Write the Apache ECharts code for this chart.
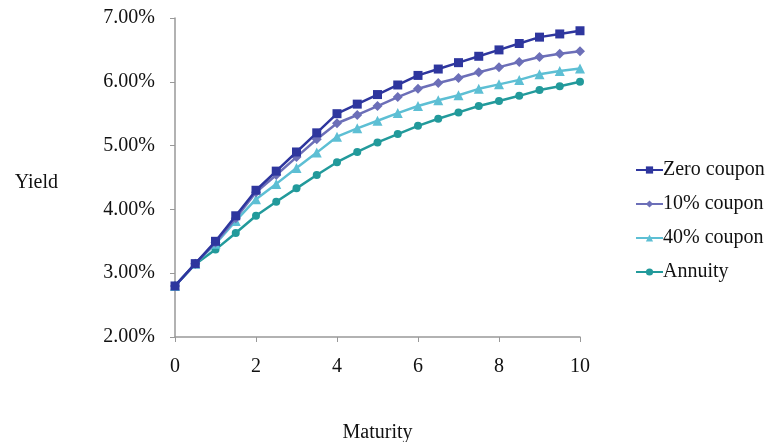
<!DOCTYPE html>
<html>
<head>
<meta charset="utf-8">
<script src="https://cdn.jsdelivr.net/npm/echarts@6/dist/echarts.min.js"></script>
<style>html,body{margin:0;padding:0;background:#fff}#c{width:774px;height:442px}</style>
</head>
<body>
<div id="c"></div>
<script>
var maturity = [0,0.5,1,1.5,2,2.5,3,3.5,4,4.5,5,5.5,6,6.5,7,7.5,8,8.5,9,9.5,10];
var zeroCoupon = [2.80,3.15,3.50,3.90,4.30,4.60,4.90,5.20,5.50,5.65,5.80,5.95,6.10,6.20,6.30,6.40,6.50,6.60,6.70,6.75,6.80];
var coupon10 = [2.80,3.15,3.48,3.86,4.27,4.54,4.82,5.10,5.35,5.48,5.62,5.76,5.89,5.98,6.06,6.15,6.23,6.31,6.39,6.44,6.48];
var coupon40 = [2.80,3.15,3.46,3.82,4.16,4.40,4.65,4.89,5.14,5.27,5.39,5.51,5.62,5.71,5.79,5.89,5.96,6.03,6.12,6.17,6.21];
var annuity = [2.80,3.14,3.37,3.63,3.90,4.12,4.33,4.54,4.74,4.90,5.05,5.18,5.31,5.42,5.52,5.62,5.70,5.78,5.87,5.93,6.00];
var seriesNames = ['Zero coupon','10% coupon','40% coupon','Annuity'];
var colors = ['#2E369E','#6C6FB8','#5DBFD4','#229A9B'];
var symbols = ['rect','diamond','triangle','circle'];
var symbolSizes = [9,10,10,8];

function pairs(v){ return maturity.map(function(m,i){ return [m, v[i]]; }); }
var allData = [zeroCoupon, coupon10, coupon40, annuity];
var font = '"Liberation Serif", "DejaVu Serif", serif';

var chart = echarts.init(document.getElementById('c'));
chart.setOption({
  animation: false,
  textStyle: { fontFamily: font },
  grid: { left: 175, right: 194, top: 18, bottom: 105, containLabel: false, outerBoundsMode: 'none' },
  legend: {
    orient: 'vertical', left: 630, top: 155,
    itemWidth: 27, itemHeight: 9, itemGap: 14,
    textStyle: { fontFamily: font, fontSize: 20, color: '#111', padding: [0,0,0,-5] },
    data: seriesNames
  },
  xAxis: {
    type: 'value', min: 0, max: 10, interval: 2,
    name: 'Maturity', nameLocation: 'middle', nameGap: 86,
    nameTextStyle: { fontFamily: font, fontSize: 20, color: '#111' },
    axisLine: { show: true, lineStyle: { color: '#999', width: 1.5 } },
    axisTick: { show: true, length: 5, lineStyle: { color: '#999' } },
    axisLabel: { fontFamily: font, fontSize: 20, color: '#111', margin: 20 },
    splitLine: { show: false }
  },
  yAxis: {
    type: 'value', min: 2, max: 7, interval: 1,
    name: 'Yield', nameLocation: 'middle', nameRotate: 0, nameGap: 117,
    nameTextStyle: { fontFamily: font, fontSize: 20, color: '#111', verticalAlign: 'top', lineHeight: 10 },
    axisLine: { show: true, lineStyle: { color: '#999', width: 1.5 } },
    axisTick: { show: true, length: 5, lineStyle: { color: '#999' } },
    axisLabel: { fontFamily: font, fontSize: 20, color: '#111', margin: 20,
      formatter: function(v){ return v.toFixed(2) + '%'; } },
    splitLine: { show: false }
  },
  series: seriesNames.map(function(n, i){
    return {
      name: n, type: 'line', data: pairs(allData[i]),
      symbol: symbols[i], symbolSize: symbolSizes[i], showAllSymbol: true,
      itemStyle: { color: colors[i] },
      lineStyle: { color: colors[i], width: 2.5 },
      z: 10 - i
    };
  })
});
</script>
</body>
</html>
